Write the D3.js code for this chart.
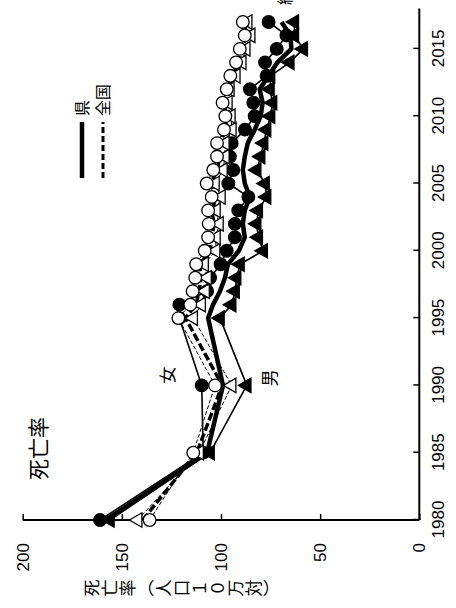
<!DOCTYPE html>
<html><head><meta charset="utf-8">
<script src="https://cdn.jsdelivr.net/npm/d3@7"></script>
<style>body{margin:0;background:#fff}svg{display:block}</style>
</head><body>
<svg id="c" width="456" height="608"></svg>
<script>
const years = [1980,1985,1990,1995,1996,1997,1998,1999,2000,2001,2002,2003,2004,2005,2006,2007,2008,2009,2010,2011,2012,2013,2014,2015,2016,2017];
const totalPref    = [158,107,99,106.5,104,100.5,98,96.5,91,88,89,88,85.5,88,89,88,86.5,83,80,79,80.5,76,71.5,64.5,65,69.5];
const totalNation  = [139.5,112.2,99.4,117.9,112.6,111,110,110.8,105.5,104.7,103.4,104.7,102.3,105.3,101.7,100.8,100.9,97.2,97.7,98.2,96.5,94.1,91.1,89.4,87.4,88.2];
const femalePref   = [161,109,109.7,121,121,107,105.5,100.2,97.1,93,93,91.3,86.2,96.3,93.8,95.5,94.6,87.9,83,83.7,85.4,77,77.8,71.9,67,76];
const malePref     = [156,105.5,87,100.5,94.6,92.9,92.1,90.4,78.7,81.2,82,81.2,77,77.8,82,80,78.5,77,75,74,75.3,75,65.3,58.5,63,63];
const femaleNation = [136,114,103,121.5,115.5,114.3,113,112.5,108.2,106.5,106.2,106.5,104.7,107.2,103.9,102,102,98.5,97.8,99.2,97.1,95.3,92.4,90.5,88,89];
const maleNation   = [142,111,94.6,114,110,108,107,108.5,102.7,102.5,101,102.5,100,103,99,98,98,94.5,95,96.5,95.5,92.5,89.5,87.5,85,86.5];
const yearTicks = [1980,1985,1990,1995,2000,2005,2010,2015];
const valueTicks = [0,50,100,150,200];
const axisTitle = '死亡率（人口１０万対）';
const legendItems = ['県','全国'];

const svg = d3.select('#c');
svg.append('rect').attr('width',456).attr('height',608).attr('fill','#fff');
// whole chart is rotated 90deg counter-clockwise
const g = svg.append('g').attr('transform','translate(0,608) rotate(-90)');
const x = d3.scaleLinear().domain([1980,2018]).range([88,599.5]);
const y = d3.scaleLinear().domain([0,200]).range([419.3,22.7]);
const numFont = 'Liberation Sans, Arial, sans-serif';
const jpFont = '"Noto Sans CJK JP", sans-serif';

// axes
const xa = g.append('g').attr('transform',`translate(0,${y(0)})`)
  .call(d3.axisBottom(x).tickValues(yearTicks).tickFormat(d3.format('d')).tickSizeInner(-6).tickSizeOuter(0).tickPadding(13));
const ya = g.append('g').attr('transform',`translate(${x(1980)},0)`)
  .call(d3.axisLeft(y).tickValues(valueTicks).tickSizeInner(-6).tickSizeOuter(0).tickPadding(23));
[xa,ya].forEach(a=>{
  a.select('.domain').attr('stroke','#000').attr('stroke-width',2);
  a.selectAll('.tick line').attr('stroke','#000').attr('stroke-width',1.5);
  a.selectAll('text').attr('font-family',numFont).attr('font-size',17).attr('fill','#000');
});
xa.select('.domain').attr('d',`M${x(1980)},0H${x(2018)}`);
ya.select('.domain').attr('d',`M0,${y(0)}V${y(200)}`);

// lines
const line = arr => d3.line().x((d,i)=>x(years[i])).y(d=>y(d))(arr);
const lineSpecs = [
  {data:maleNation, w:1, dash:'4,2'},
  {data:femaleNation, w:1, dash:'4,2'},
  {data:malePref, w:1.6, dash:null},
  {data:femalePref, w:1.6, dash:null},
  {data:totalNation, w:3.5, dash:'8,3'},
  {data:totalPref, w:4.5, dash:null}
];
lineSpecs.forEach(s=>{
  g.append('path').attr('d',line(s.data)).attr('fill','none').attr('stroke','#000')
   .attr('stroke-width',s.w).attr('stroke-dasharray',s.dash).attr('stroke-linejoin','round');
});

// markers
const circ = d3.symbol().type(d3.symbolCircle).size(125);
const tri = d3.symbol().type(d3.symbolTriangle).size(90);
function markers(arr, sym, fill){
  g.append('g').selectAll('path').data(arr).join('path')
    .attr('transform',(d,i)=>`translate(${x(years[i])},${y(d)})`)
    .attr('d',sym).attr('fill',fill).attr('stroke','#000').attr('stroke-width',1.3);
}
markers(femalePref, circ, '#000');
markers(malePref, tri, '#000');
markers(maleNation, tri, '#fff');
markers(femaleNation, circ, '#fff');

// titles / labels
g.append('text').attr('x',128).attr('y',46).attr('font-family',jpFont).attr('font-size',21).text('死亡率');
Array.from(axisTitle).forEach((ch,i)=>{
  g.append('text').attr('x',20).attr('y',83+18*(i+0.5)).attr('font-family',jpFont).attr('font-size',17)
    .attr('text-anchor','middle').style('writing-mode','vertical-rl').text(ch);
});
g.append('text').attr('x',233).attr('y',174).attr('font-family',jpFont).attr('font-size',17).attr('text-anchor','middle').text('女');
g.append('text').attr('x',230).attr('y',276).attr('font-family',jpFont).attr('font-size',17).attr('text-anchor','middle').text('男');
g.append('text').attr('x',603).attr('y',291).attr('font-family',jpFont).attr('font-size',16).text('総数');

// legend
const legendDash = [null,'6,3'];
const legendW = [4.5,3];
legendItems.forEach((t,i)=>{
  const yy = 82 + i*21;
  g.append('line').attr('x1',430).attr('x2',486).attr('y1',yy).attr('y2',yy)
    .attr('stroke','#000').attr('stroke-width',legendW[i]).attr('stroke-dasharray',legendDash[i]);
  g.append('text').attr('x',492).attr('y',yy+6).attr('font-family',jpFont).attr('font-size',16).text(t);
});
</script>
</body></html>
